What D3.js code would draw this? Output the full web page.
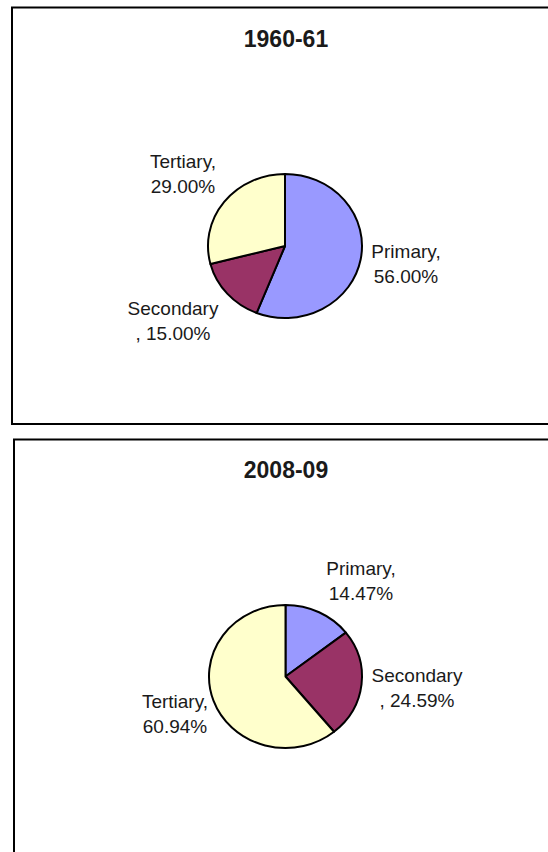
<!DOCTYPE html>
<html>
<head>
<meta charset="utf-8">
<script src="https://cdn.jsdelivr.net/npm/d3@7"></script>
<style>
  html, body { margin: 0; padding: 0; background: #fff; }
  svg { display: block; }
  text { font-family: "Liberation Sans", Arial, sans-serif; fill: #1a1a1a; }
</style>
</head>
<body>
<svg id="chart" width="548" height="852"></svg>
<script>
// ---- data ----
const periods = ["1960-61", "2008-09"];
const sectors = ["Primary", "Secondary", "Tertiary"];
const share1960 = [56.00, 15.00, 29.00];
const share2008 = [14.47, 24.59, 60.94];
const sectorColors = ["#9999FF", "#993366", "#FFFFCC"];

// ---- layout (not data) ----
const panels = [
  { title: periods[0], values: share1960, box: { x: 12, y: 7.5, w: 560, h: 416.5 },
    cx: 285, cy: 246, rx: 77, ry: 72, titleY: 47,
    labelOff: [[121, 12], [-112, 69], [-102, -78]] },
  { title: periods[1], values: share2008, box: { x: 14, y: 439.5, w: 560, h: 440 },
    cx: 285.5, cy: 676.5, rx: 76.5, ry: 71.5, titleY: 478,
    labelOff: [[75.5, -101.5], [131.5, 5.5], [-110.5, 31.5]] }
];
const lineH = 25;

const svg = d3.select("#chart");
const color = d3.scaleOrdinal().domain(sectors).range(sectorColors);
const pie = d3.pie().sort(null).value(d => d.value);

panels.forEach(p => {
  const g = svg.append("g");
  g.append("rect")
    .attr("x", p.box.x).attr("y", p.box.y)
    .attr("width", p.box.w).attr("height", p.box.h)
    .attr("fill", "#fff").attr("stroke", "#000").attr("stroke-width", 2);

  g.append("text")
    .attr("x", 286).attr("y", p.titleY)
    .attr("text-anchor", "middle")
    .style("font-size", "23px").style("font-weight", "bold")
    .text(p.title);

  const rows = sectors.map((s, i) => ({ name: s, value: p.values[i] }));
  const arcs = pie(rows);
  const arc = d3.arc().innerRadius(0).outerRadius(p.ry);

  const pg = g.append("g")
    .attr("transform", `translate(${p.cx},${p.cy}) scale(${p.rx / p.ry},1)`);
  pg.selectAll("path").data(arcs).join("path")
    .attr("d", arc)
    .attr("fill", d => color(d.data.name))
    .attr("stroke", "#000")
    .attr("stroke-width", 2)
    .attr("vector-effect", "non-scaling-stroke")
    .attr("stroke-linejoin", "round");

  arcs.forEach((d, i) => {
    const pct = d.data.value.toFixed(2) + "%";
    const lines = d.data.name.length > 8
      ? [d.data.name, ", " + pct]
      : [d.data.name + ",", pct];
    const t = g.append("text")
      .attr("text-anchor", "middle")
      .style("font-size", "19px");
    lines.forEach((ln, k) => {
      t.append("tspan")
        .attr("x", p.cx + p.labelOff[i][0])
        .attr("y", p.cy + p.labelOff[i][1] + k * lineH)
        .text(ln);
    });
  });
});
</script>
</body>
</html>
